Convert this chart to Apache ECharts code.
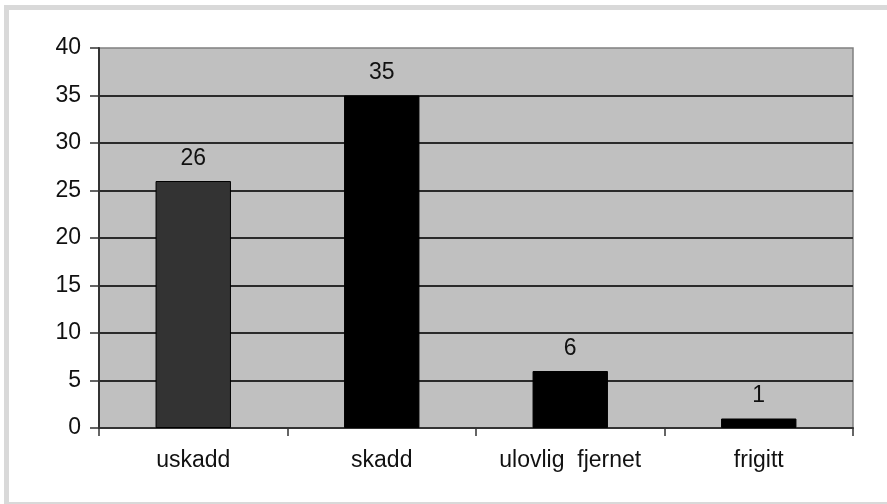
<!DOCTYPE html>
<html>
<head>
<meta charset="utf-8">
<style>
  html, body { margin: 0; padding: 0; background: #ffffff; }
  #chart { width: 887px; height: 504px; }
</style>
<script src="https://cdn.jsdelivr.net/npm/echarts@6/dist/echarts.min.js"></script>
</head>
<body>
<div id="chart"></div>
<script>
const categories = ['uskadd', 'skadd', 'ulovlig  fjernet', 'frigitt'];
const values = [26, 35, 6, 1];
const barColors = ['#333333', '#000000', '#000000', '#000000'];
const yMin = 0, yMax = 40, yStep = 5;

const chart = echarts.init(document.getElementById('chart'), null, { renderer: 'canvas' });
const font = '"Liberation Sans", Arial, sans-serif';
chart.setOption({
  animation: false,
  backgroundColor: '#ffffff',
  graphic: [{
    type: 'rect',
    shape: { x: 6.5, y: 7.5, width: 900, height: 497 },
    style: { fill: 'none', stroke: '#d9d9d9', lineWidth: 5 },
    silent: true, z: -10
  }],
  grid: {
    left: 99, right: 34, top: 48, bottom: 76,
    show: true, backgroundColor: '#c0c0c0', borderColor: '#808080', borderWidth: 1.5
  },
  xAxis: {
    type: 'category',
    data: categories,
    axisLine: { lineStyle: { color: '#333333', width: 2 } },
    axisTick: { show: true, length: 8, lineStyle: { color: '#333333', width: 1.5 } },
    axisLabel: { color: '#111111', fontSize: 23, fontFamily: font, margin: 21 },
    splitLine: { show: false }
  },
  yAxis: {
    type: 'value',
    min: yMin, max: yMax, interval: yStep,
    axisLine: { show: true, lineStyle: { color: '#333333', width: 2 } },
    axisTick: { show: true, length: 9, lineStyle: { color: '#333333', width: 1.5 } },
    axisLabel: { color: '#111111', fontSize: 23, fontFamily: font, margin: 18 },
    splitLine: { show: true, showMaxLine: false, lineStyle: { color: '#2a2a2a', width: 2 } }
  },
  series: [{
    type: 'bar',
    data: values.map((v, i) => ({
      value: v,
      itemStyle: { color: barColors[i], borderColor: '#000000', borderWidth: 1 }
    })),
    barWidth: '40%',
    label: {
      show: true, position: 'top', distance: 11,
      color: '#111111', fontSize: 23, fontFamily: font
    }
  }]
});
</script>
</body>
</html>
